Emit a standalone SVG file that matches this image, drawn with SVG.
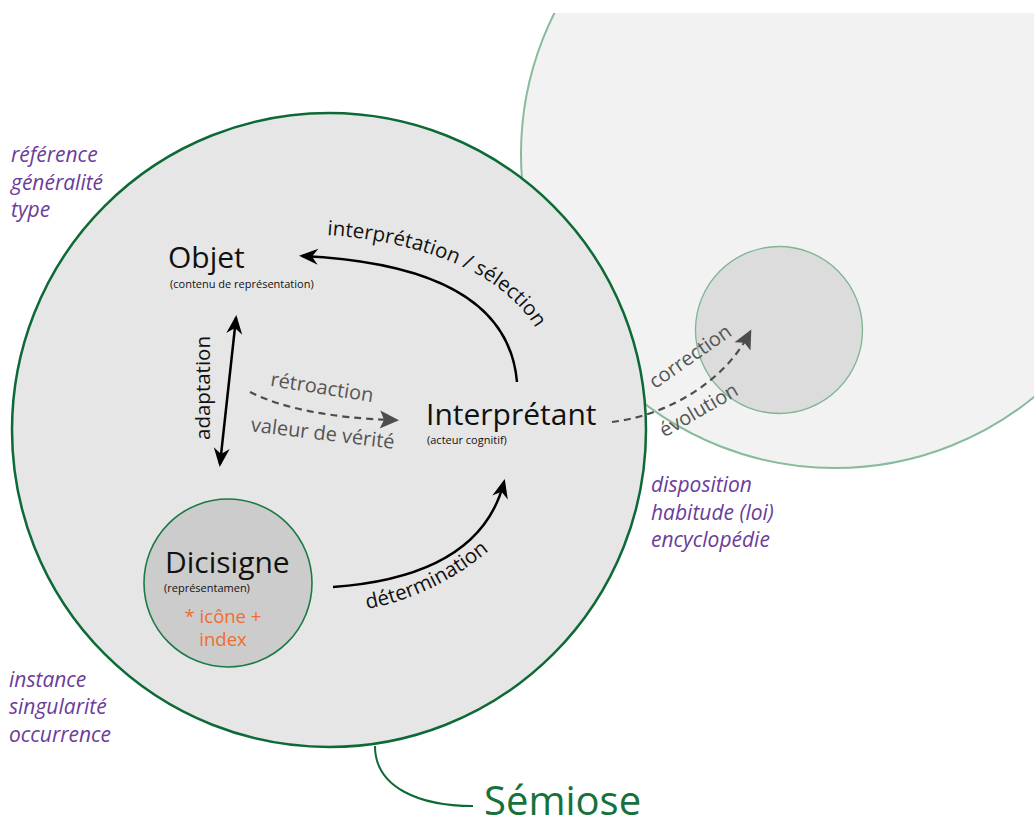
<svg xmlns="http://www.w3.org/2000/svg" width="1034" height="827" viewBox="0 0 1034 827">
<style>
  .t { font-family: "Open Sans", "Noto Sans", "Liberation Sans", sans-serif; }
  .big { font-size: 30px; fill: #111; }
  .sub { font-size: 11px; fill: #111; }
  .lbl { font-size: 20.5px; fill: #111; }
  .glbl { font-size: 20px; fill: #555; }
  .purple { font-size: 21px; fill: #6b3c9b; font-style: italic; }
  .arrow { fill: none; stroke: #000; stroke-width: 2.5; }
  .dash { fill: none; stroke: #4d4d4d; stroke-width: 2.2; stroke-dasharray: 7 5; }
</style>
<defs>
  <clipPath id="topclip"><rect x="0" y="13" width="1034" height="814"/></clipPath>
  <marker id="ah" viewBox="-18 -9 22 18" refX="0" refY="0" markerWidth="22" markerHeight="18" markerUnits="userSpaceOnUse" orient="auto-start-reverse">
    <path d="M3,0 L-16,-8 L-10,0 L-16,8 Z" fill="#000"/>
  </marker>
  <marker id="gh" viewBox="-16 -10 22 20" refX="0" refY="0" markerWidth="22" markerHeight="20" markerUnits="userSpaceOnUse" orient="auto">
    <path d="M5,0 L-14,-9 L-10,0 L-14,9 Z" fill="#4d4d4d"/>
  </marker>
</defs>
<rect width="1034" height="827" fill="#fff"/>

<g id="habitude-circle">
  <circle cx="835" cy="154" r="314" fill="#f2f2f2" stroke="#88bb9c" stroke-width="2" clip-path="url(#topclip)"/>
</g>

<g id="semiose-circle">
  <circle cx="329" cy="430" r="317" fill="#e6e6e6" stroke="#0d6a36" stroke-width="2.5"/>
</g>

<g id="interpretant-next">
  <circle cx="779" cy="330" r="83.5" fill="#dcdcdc" stroke="#7fb593" stroke-width="1.3"/>
</g>

<g id="dicisigne">
  <circle cx="228" cy="583" r="84" fill="#cccccc" stroke="#1b7a45" stroke-width="1.6"/>
  <text class="t big" x="165" y="573">Dicisigne</text>
  <text class="t sub" x="164" y="592">(représentamen)</text>
  <text class="t" x="223" y="623" font-size="18.5" fill="#f26c2e" text-anchor="middle">* icône +</text>
  <text class="t" x="223" y="646" font-size="18.5" fill="#f26c2e" text-anchor="middle">index</text>
</g>

<g id="objet">
  <text class="t big" x="168" y="268">Objet</text>
  <text class="t sub" x="170" y="288">(contenu de représentation)</text>
</g>

<g id="interpretant">
  <text class="t big" x="426" y="425">Interprétant</text>
  <text class="t sub" x="427" y="444">(acteur cognitif)</text>
</g>

<g id="connectors">
  <path class="arrow" d="M517,382 C510,300 430,262 302,256" marker-end="url(#ah)"/>
  <path class="arrow" d="M236,318 L220,464" marker-start="url(#ah)" marker-end="url(#ah)"/>
  <path class="arrow" d="M333,587 C430,580 488,545 504,482" marker-end="url(#ah)"/>
  <path class="dash" d="M250,392 Q300,417 394,420" marker-end="url(#gh)"/>
  <path class="dash" d="M612,422 C670,415 725,380 749,334" marker-end="url(#gh)"/>
  <path d="M375,746 C375,788 420,806 473,806" fill="none" stroke="#0d6a36" stroke-width="2"/>
</g>

<g id="labels">
  <path id="p-interp" d="M327,235 C440,243 532,285 549,362" fill="none"/>
  <text class="t lbl"><textPath href="#p-interp">interprétation / sélection</textPath></text>
  <path id="p-det" d="M367,609 Q440,595 498,543" fill="none"/>
  <text class="t lbl"><textPath href="#p-det">détermination</textPath></text>
  <text class="t lbl" transform="translate(210,388) rotate(-90)" text-anchor="middle">adaptation</text>
  <text class="t glbl" transform="translate(321,394) rotate(9)" text-anchor="middle">rétroaction</text>
  <text class="t glbl" transform="translate(322,440) rotate(7)" text-anchor="middle">valeur de vérité</text>
  <text class="t glbl" transform="translate(694,362) rotate(-35)" text-anchor="middle">correction</text>
  <text class="t glbl" transform="translate(702,416) rotate(-30)" text-anchor="middle">évolution</text>
</g>

<g id="annotations">
  <text class="t purple" x="11" y="162">référence</text>
  <text class="t purple" x="11" y="190">généralité</text>
  <text class="t purple" x="11" y="217">type</text>
  <text class="t purple" x="9" y="687">instance</text>
  <text class="t purple" x="9" y="714">singularité</text>
  <text class="t purple" x="9" y="742">occurrence</text>
  <text class="t purple" x="651" y="492">disposition</text>
  <text class="t purple" x="651" y="520">habitude (loi)</text>
  <text class="t purple" x="651" y="547">encyclopédie</text>
  <text class="t" x="484" y="815" font-size="40" fill="#16713a">Sémiose</text>
</g>
</svg>
